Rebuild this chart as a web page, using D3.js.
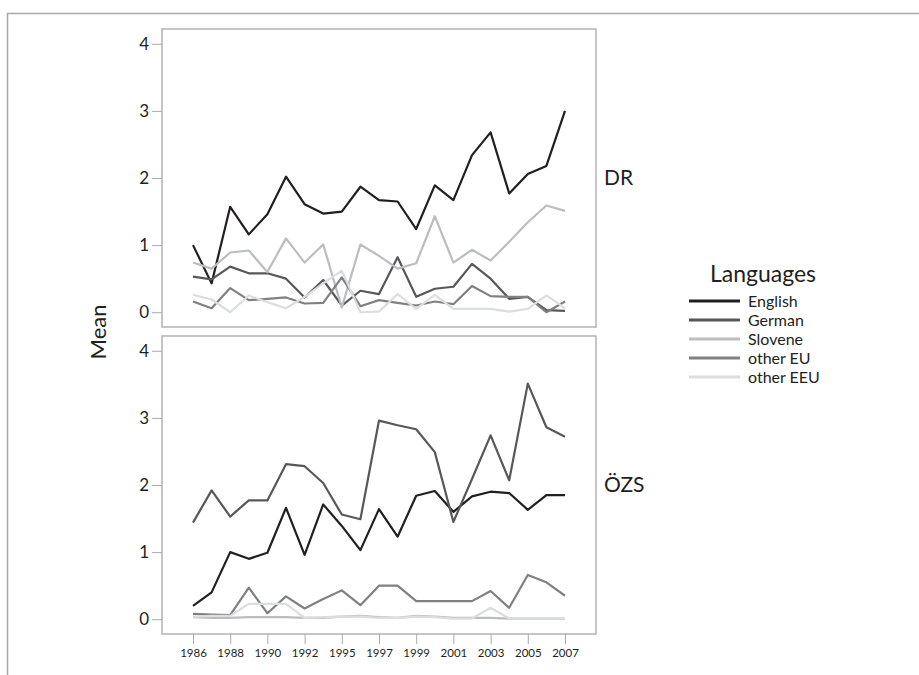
<!DOCTYPE html>
<html>
<head>
<meta charset="utf-8">
<script src="https://cdn.jsdelivr.net/npm/d3@7"></script>
<style>
  body { margin: 0; background: #fff; }
  text { font-family: Lato, "Open Sans", sans-serif; fill: #231f20; }
</style>
</head>
<body>
<div id="chart"></div>
<script>
const years = ["1986","1987","1988","1989","1990","1991","1992","1993","1995","1996","1997",
  "1998","1999","2000","2001","2002","2003","2004","2005","2006","2007"];
const tickYears = ["1986","1988","1990","1992","1995","1997","1999","2001","2003","2005","2007"];
const languages = ["English", "German", "Slovene", "other EU", "other EEU"];
const panels = ["DR", "ÖZS"];

// DR means
const drEnglish = [1.0,0.43,1.57,1.16,1.46,2.02,1.61,1.47,1.50,1.87,1.67,1.65,1.24,1.89,1.67,2.34,2.68,1.77,2.06,2.18,3.0];
const drGerman = [0.53,0.49,0.68,0.58,0.58,0.50,0.22,0.48,0.10,0.32,0.27,0.82,0.23,0.35,0.38,0.72,0.50,0.20,0.23,0.03,0.02];
const drSlovene = [0.74,0.65,0.89,0.92,0.60,1.10,0.74,1.01,0.07,1.01,0.84,0.65,0.73,1.43,0.74,0.93,0.77,1.05,1.34,1.59,1.51];
const drOtherEU = [0.16,0.06,0.36,0.18,0.20,0.22,0.13,0.14,0.52,0.09,0.18,0.14,0.10,0.16,0.12,0.39,0.24,0.23,0.23,0.0,0.16];
const drOtherEEU = [0.26,0.19,0.0,0.25,0.15,0.06,0.23,0.43,0.62,0.0,0.01,0.27,0.05,0.26,0.05,0.05,0.05,0.01,0.05,0.25,0.06];

// ÖZS means
const ozsEnglish = [0.20,0.40,1.00,0.90,0.99,1.66,0.96,1.71,1.39,1.03,1.64,1.23,1.84,1.91,1.60,1.83,1.90,1.88,1.63,1.85,1.85];
const ozsGerman = [1.44,1.92,1.53,1.77,1.77,2.31,2.28,2.03,1.56,1.49,2.96,2.89,2.83,2.49,1.45,2.09,2.74,2.07,3.51,2.86,2.72];
const ozsSlovene = [0.03,0.02,0.02,0.03,0.03,0.03,0.02,0.02,0.04,0.05,0.03,0.02,0.05,0.04,0.02,0.02,0.02,0.01,0.01,0.01,0.01];
const ozsOtherEU = [0.08,0.07,0.06,0.47,0.09,0.34,0.16,0.30,0.43,0.21,0.50,0.50,0.27,0.27,0.27,0.27,0.42,0.17,0.66,0.55,0.35];
const ozsOtherEEU = [0.04,0.05,0.05,0.23,0.23,0.23,0.02,0.03,0.04,0.04,0.02,0.02,0.04,0.03,0.01,0.01,0.17,0.01,0.01,0.01,0.01];

const panelData = [
  [drEnglish, drGerman, drSlovene, drOtherEU, drOtherEEU],
  [ozsEnglish, ozsGerman, ozsSlovene, ozsOtherEU, ozsOtherEEU]
];

const colors = ["#231f20", "#58585a", "#bcbdc0", "#808082", "#dcdddf"];

const width = 919, height = 675;
const svg = d3.select("#chart").append("svg")
  .attr("width", width)
  .attr("height", height);

// outer frame (top and left edges only)
svg.append("path")
  .attr("d", `M7.5,${height} V13.5 H${width}`)
  .attr("fill", "none")
  .attr("stroke", "#a7a9ac")
  .attr("stroke-width", 1.5);

const left = 162, right = 596;
const panelTops = [29, 336], panelH = 298;

const x = d3.scalePoint().domain(years).range([193, 565]);
const line = d3.line().x((d, i) => x(years[i]));

panels.forEach((name, p) => {
  const top = panelTops[p];
  const y = d3.scaleLinear().domain([-0.22, 4.22]).range([top + panelH, top]);

  const g = svg.append("g");

  g.append("rect")
    .attr("x", left).attr("y", top)
    .attr("width", right - left).attr("height", panelH)
    .attr("fill", "none")
    .attr("stroke", "#b3b3b3")
    .attr("stroke-width", 1.5);

  const yAxis = g.append("g")
    .attr("transform", `translate(${left},0)`)
    .call(d3.axisLeft(y).tickValues([0, 1, 2, 3, 4]).tickFormat(d3.format("d")).tickSize(10).tickPadding(3));
  yAxis.select(".domain").remove();
  yAxis.selectAll(".tick line").attr("stroke", "#a7a9ac");
  yAxis.selectAll(".tick text").style("font-size", "17px").style("font-family", "Lato, sans-serif").attr("fill", "#231f20");

  line.y(d => y(d));
  panelData[p].forEach((vals, k) => {
    g.append("path")
      .datum(vals)
      .attr("d", line)
      .attr("fill", "none")
      .attr("stroke", colors[k])
      .attr("stroke-width", 2.2)
      .attr("stroke-linejoin", "round");
  });

  g.append("text")
    .attr("x", 604)
    .attr("y", y(2))
    .attr("dy", "0.35em")
    .style("font-size", "21px")
    .text(name);
});

// x axis under bottom panel
const xAxis = svg.append("g")
  .attr("transform", `translate(0,${panelTops[1] + panelH})`)
  .call(d3.axisBottom(x).tickValues(tickYears).tickSize(10).tickPadding(5));
xAxis.select(".domain").remove();
xAxis.selectAll(".tick line").attr("stroke", "#a7a9ac");
xAxis.selectAll(".tick text").style("font-size", "11.5px").style("font-family", "Lato, sans-serif").attr("fill", "#231f20");

// y label
svg.append("text")
  .attr("transform", "translate(106,332) rotate(-90)")
  .attr("text-anchor", "middle")
  .style("font-size", "22px")
  .text("Mean");

// legend
const legend = svg.append("g");
legend.append("text")
  .attr("x", 763).attr("y", 282)
  .attr("text-anchor", "middle")
  .style("font-size", "23px")
  .text("Languages");

languages.forEach((lang, k) => {
  const ly = 301 + k * 19;
  legend.append("line")
    .attr("x1", 689).attr("x2", 740)
    .attr("y1", ly).attr("y2", ly)
    .attr("stroke", colors[k])
    .attr("stroke-width", 3);
  legend.append("text")
    .attr("x", 748).attr("y", ly)
    .attr("dy", "0.35em")
    .style("font-size", "16px")
    .text(lang);
});
</script>
</body>
</html>
